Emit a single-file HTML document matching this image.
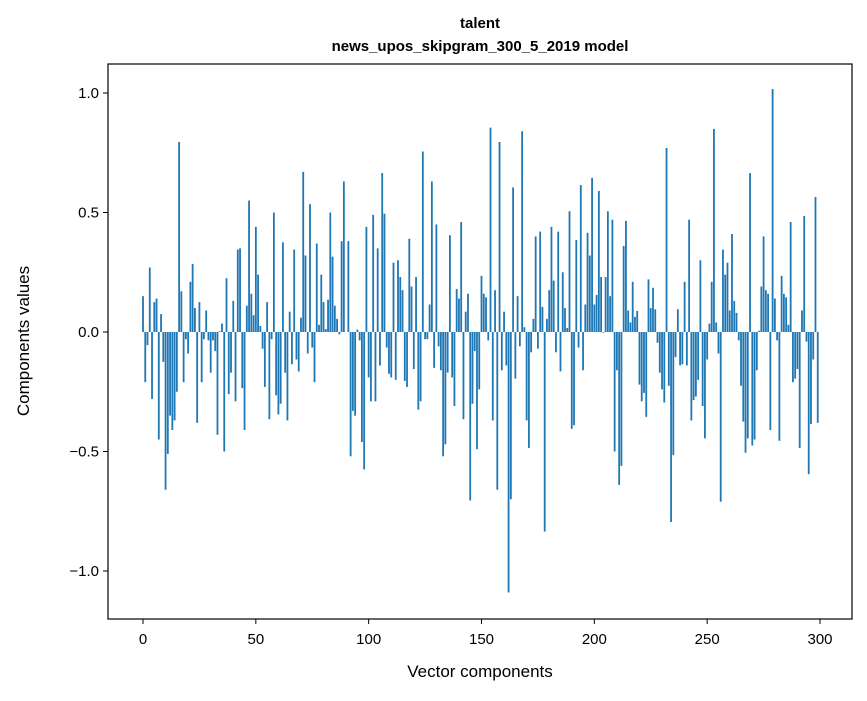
<!DOCTYPE html>
<html><head><meta charset="utf-8"><style>
body{margin:0;background:#fff;}
svg text{font-family:"Liberation Sans","DejaVu Sans",sans-serif;fill:#000;}
</style></head><body>
<svg id="chart" width="867" height="696" viewBox="0 0 867 696" xmlns="http://www.w3.org/2000/svg">
<rect width="867" height="696" fill="#fff"/>
<text x="480" y="28" text-anchor="middle" font-size="15" font-weight="bold">talent</text>
<text x="480" y="51" text-anchor="middle" font-size="15" font-weight="bold">news_upos_skipgram_300_5_2019 model</text>
<g id="bars"></g>
<g id="axes"></g>
<rect x="108" y="64" width="744" height="555" fill="none" stroke="#000" stroke-width="1.2"/>
<text x="480" y="677" text-anchor="middle" font-size="17">Vector components</text>
<text x="29" y="341" text-anchor="middle" font-size="17" transform="rotate(-90 29 341)">Components values</text>
</svg>
<script>
const values=[0.15,-0.21,-0.055,0.27,-0.28,0.125,0.14,-0.45,0.075,-0.125,
-0.66,-0.51,-0.35,-0.41,-0.37,-0.25,0.795,0.17,-0.21,-0.03,
-0.09,0.21,0.285,0.1,-0.38,0.125,-0.21,-0.03,0.09,-0.035,
-0.17,-0.035,-0.08,-0.43,0.003,0.035,-0.5,0.225,-0.26,-0.17,
0.13,-0.29,0.345,0.35,-0.235,-0.41,0.11,0.55,0.16,0.07,
0.44,0.24,0.025,-0.07,-0.23,0.125,-0.365,-0.03,0.5,-0.265,
-0.345,-0.3,0.375,-0.17,-0.37,0.085,-0.135,0.345,-0.115,-0.165,
0.06,0.67,0.32,-0.09,0.535,-0.065,-0.21,0.37,0.03,0.24,
0.125,0.012,0.135,0.5,0.315,0.11,0.055,-0.01,0.38,0.63,
0.0,0.38,-0.52,-0.33,-0.35,0.01,-0.035,-0.46,-0.575,0.44,
-0.19,-0.29,0.49,-0.29,0.35,-0.14,0.665,0.495,-0.065,-0.175,
-0.19,0.29,-0.2,0.3,0.23,0.175,-0.205,-0.23,0.39,0.19,
-0.155,0.23,-0.325,-0.29,0.755,-0.03,-0.03,0.115,0.63,-0.15,
0.45,-0.06,-0.16,-0.52,-0.47,-0.17,0.405,-0.19,-0.31,0.18,
0.14,0.46,-0.365,0.085,0.16,-0.705,-0.3,-0.08,-0.49,-0.24,
0.235,0.16,0.145,-0.035,0.855,-0.37,0.175,-0.66,0.795,-0.16,
0.085,-0.14,-1.09,-0.7,0.605,-0.195,0.15,-0.06,0.84,0.02,
-0.37,-0.485,-0.085,0.055,0.4,-0.07,0.42,0.105,-0.835,0.055,
0.175,0.44,0.215,-0.085,0.42,-0.165,0.25,0.1,0.017,0.505,
-0.405,-0.39,0.385,-0.065,0.615,-0.16,0.115,0.415,0.32,0.645,
0.115,0.155,0.59,0.23,-0.003,0.23,0.505,0.15,0.47,-0.5,
-0.16,-0.64,-0.56,0.36,0.465,0.09,0.04,0.21,0.063,0.088,
-0.22,-0.29,-0.255,-0.355,0.22,0.1,0.185,0.095,-0.045,-0.17,
-0.24,-0.295,0.77,-0.225,-0.795,-0.515,-0.105,0.095,-0.14,-0.135,
0.21,-0.14,0.47,-0.37,-0.285,-0.27,-0.2,0.3,-0.31,-0.445,
-0.115,0.035,0.21,0.85,0.04,-0.09,-0.71,0.345,0.24,0.29,
0.09,0.41,0.13,0.08,-0.035,-0.225,-0.375,-0.505,-0.445,0.665,
-0.475,-0.45,-0.16,0.005,0.19,0.4,0.175,0.16,-0.41,1.017,
0.14,-0.035,-0.455,0.235,0.16,0.145,0.03,0.46,-0.21,-0.195,
-0.155,-0.485,0.09,0.485,-0.04,-0.595,-0.385,-0.115,0.565,-0.38];
const xTicks=[0,50,100,150,200,250,300];
const yTicks=[-1.0,-0.5,0.0,0.5,1.0];
const yTickLabels=["\u22121.0","\u22120.5","0.0","0.5","1.0"];

const NS="http://www.w3.org/2000/svg";
function xs(v){return 143+(v)*(677/300);}
function ys(v){return 332-v*239;}
const bars=document.getElementById('bars');
const bw=0.8*(677/300);
values.forEach((v,i)=>{
  const r=document.createElementNS(NS,'rect');
  
  
  const y0=ys(Math.max(v,0)),y1=ys(Math.min(v,0));
  r.setAttribute('x',xs(i)-bw/2);r.setAttribute('y',y0);
  r.setAttribute('width',bw);r.setAttribute('height',Math.max(y1-y0,0));
  r.setAttribute('fill','#1f77b4');
  bars.appendChild(r);
});
const axes=document.getElementById('axes');
xTicks.forEach(t=>{
  const l=document.createElementNS(NS,'line');
  
  
  l.setAttribute('x1',xs(t));l.setAttribute('x2',xs(t));l.setAttribute('y1',619);l.setAttribute('y2',624);
  l.setAttribute('stroke','#000');axes.appendChild(l);
  const tx=document.createElementNS(NS,'text');
  
  
  tx.setAttribute('x',xs(t));tx.setAttribute('y',644);tx.setAttribute('text-anchor','middle');tx.setAttribute('font-size','15');
  tx.textContent=String(t);axes.appendChild(tx);
});
yTicks.forEach((t,i)=>{
  const l=document.createElementNS(NS,'line');
  
  
  l.setAttribute('x1',103);l.setAttribute('x2',108);l.setAttribute('y1',ys(t));l.setAttribute('y2',ys(t));
  l.setAttribute('stroke','#000');axes.appendChild(l);
  const tx=document.createElementNS(NS,'text');
  
  
  tx.setAttribute('x',99);tx.setAttribute('y',ys(t)+5);tx.setAttribute('text-anchor','end');tx.setAttribute('font-size','15');
  tx.textContent=yTickLabels[i];axes.appendChild(tx);
});
</script>
</body></html>
